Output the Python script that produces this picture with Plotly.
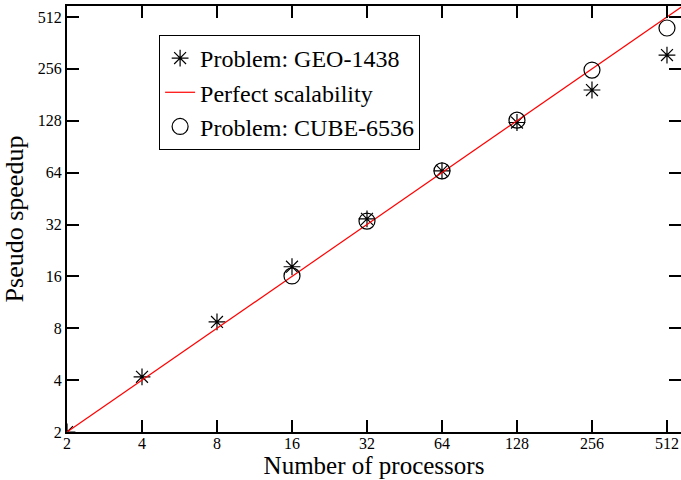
import math
import plotly.graph_objects as go

ticks = [2, 4, 8, 16, 32, 64, 128, 256, 512]
tick_labels = ["2", "4", "8", "16", "32", "64", "128", "256", "512"]

geo_x = [2, 4, 8, 16, 32, 64, 128, 256, 512]
geo_y = [2, 4.18, 8.7, 18.2, 34.5, 65.5, 125, 193, 308]

cube_x = [16, 32, 64, 128, 256, 512]
cube_y = [16.1, 33.5, 65.5, 129, 252, 442]

perfect_x = [2, 700]
perfect_y = [2, 700]

FONT = "Liberation Serif, Times New Roman, serif"
LOG2 = math.log10(2)

fig = go.Figure()
fig.add_trace(go.Scatter(
    x=geo_x, y=geo_y, mode="markers", name="Problem: GEO-1438",
    marker=dict(symbol="asterisk-open", size=14, color="black",
                line=dict(color="black", width=1.2)),
))
fig.add_trace(go.Scatter(
    x=perfect_x, y=perfect_y, mode="lines", name="Perfect scalability",
    line=dict(color="red", width=1.2),
))
fig.add_trace(go.Scatter(
    x=cube_x, y=cube_y, mode="markers", name="Problem: CUBE-6536",
    marker=dict(symbol="circle-open", size=16, color="black",
                line=dict(color="black", width=1.2)),
))

axis_common = dict(
    type="log", tickvals=ticks, ticktext=tick_labels,
    ticks="inside", ticklen=12, tickwidth=1.5, tickcolor="black",
    showline=True, linecolor="black", linewidth=2, mirror="ticks",
    showgrid=False, zeroline=False, automargin=False,
    tickfont=dict(family=FONT, size=16, color="black"),
)

fig.update_layout(
    width=681, height=480,
    margin=dict(l=67, r=0, t=6, b=48),
    paper_bgcolor="white", plot_bgcolor="white",
    showlegend=True,
    legend=dict(
        x=0.150, y=0.932, xanchor="left", yanchor="top",
        bordercolor="black", borderwidth=1, bgcolor="white",
        font=dict(family=FONT, size=24, color="black"),
        tracegroupgap=0, itemsizing="trace",
    ),
    xaxis=dict(axis_common, range=[LOG2, 9.187 * LOG2],
               ticklabelstandoff=-4,
               title=dict(text="Number of processors", standoff=0,
                          font=dict(family=FONT, size=25, color="black"))),
    yaxis=dict(axis_common, range=[LOG2, 9.212 * LOG2],
               ticklabelstandoff=0,
               title=dict(text="Pseudo speedup", standoff=8,
                          font=dict(family=FONT, size=26, color="black"))),
)

fig.write_html("out.html",
               config={"displayModeBar": False},
               post_script="document.body.style.margin='0';document.body.style.overflow='hidden';")
